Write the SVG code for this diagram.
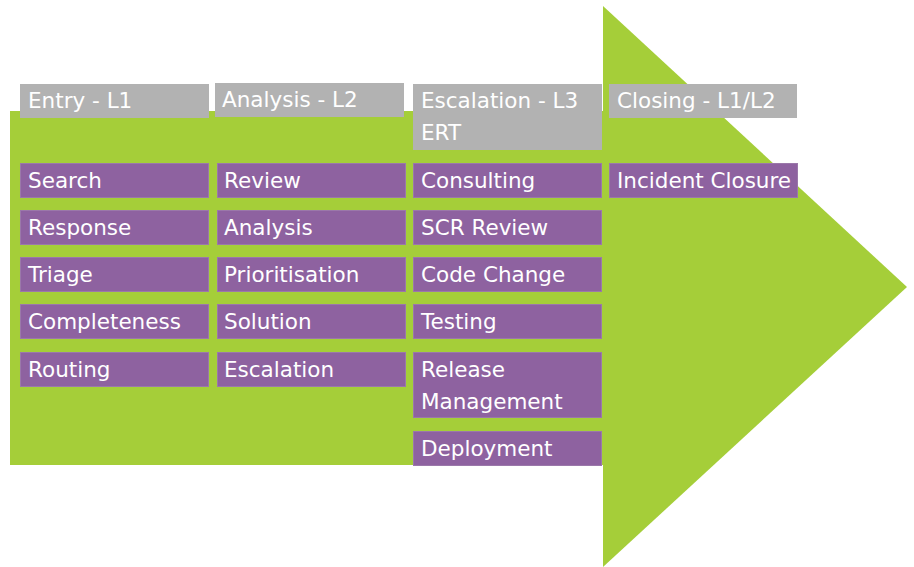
<svg xmlns="http://www.w3.org/2000/svg" width="914" height="567" viewBox="0 0 914 567">
  <style>
    .hdr { fill: #b2b2b2; }
    .step { fill: #8e62a0; stroke: #9b78aa; stroke-width: 1; }
    .lbl { fill: #ffffff; font-family: "DejaVu Sans", sans-serif; font-size: 21.5px; }
  </style>

  <!-- process arrow: body and head -->
  <g id="arrow">
    <rect x="10" y="111" width="594" height="354" fill="#a5ce39"/>
    <polygon points="603,6 907,287 603,567" fill="#a5ce39"/>
  </g>

  <!-- column headers -->
  <g id="hdr-entry">
    <rect class="hdr" x="20" y="84" width="189" height="34"/>
    <text class="lbl" x="28" y="108">Entry - L1</text>
  </g>
  <g id="hdr-analysis">
    <rect class="hdr" x="215" y="83" width="189" height="34"/>
    <text class="lbl" x="222" y="107">Analysis - L2</text>
  </g>
  <g id="hdr-escalation">
    <rect class="hdr" x="413" y="84" width="189" height="66"/>
    <text class="lbl" x="421" y="108">Escalation - L3</text>
    <text class="lbl" x="421" y="140">ERT</text>
  </g>
  <g id="hdr-closing">
    <rect class="hdr" x="609" y="84" width="188" height="34"/>
    <text class="lbl" x="617" y="108">Closing - L1/L2</text>
  </g>

  <!-- column 1 steps -->
  <g id="search"><rect class="step" x="20.5" y="163.5" width="188" height="34"/><text class="lbl" x="28" y="188">Search</text></g>
  <g id="response"><rect class="step" x="20.5" y="210.5" width="188" height="34"/><text class="lbl" x="28" y="235">Response</text></g>
  <g id="triage"><rect class="step" x="20.5" y="257.5" width="188" height="34"/><text class="lbl" x="28" y="282">Triage</text></g>
  <g id="completeness"><rect class="step" x="20.5" y="304.5" width="188" height="34"/><text class="lbl" x="28" y="329">Completeness</text></g>
  <g id="routing"><rect class="step" x="20.5" y="352.5" width="188" height="34"/><text class="lbl" x="28" y="377">Routing</text></g>

  <!-- column 2 steps -->
  <g id="review"><rect class="step" x="217.5" y="163.5" width="188" height="34"/><text class="lbl" x="224" y="188">Review</text></g>
  <g id="analysis"><rect class="step" x="217.5" y="210.5" width="188" height="34"/><text class="lbl" x="224" y="235">Analysis</text></g>
  <g id="prioritisation"><rect class="step" x="217.5" y="257.5" width="188" height="34"/><text class="lbl" x="224" y="282">Prioritisation</text></g>
  <g id="solution"><rect class="step" x="217.5" y="304.5" width="188" height="34"/><text class="lbl" x="224" y="329">Solution</text></g>
  <g id="escalation"><rect class="step" x="217.5" y="352.5" width="188" height="34"/><text class="lbl" x="224" y="377">Escalation</text></g>

  <!-- column 3 steps -->
  <g id="consulting"><rect class="step" x="413.5" y="163.5" width="188" height="34"/><text class="lbl" x="421" y="188">Consulting</text></g>
  <g id="scr-review"><rect class="step" x="413.5" y="210.5" width="188" height="34"/><text class="lbl" x="421" y="235">SCR Review</text></g>
  <g id="code-change"><rect class="step" x="413.5" y="257.5" width="188" height="34"/><text class="lbl" x="421" y="282">Code Change</text></g>
  <g id="testing"><rect class="step" x="413.5" y="304.5" width="188" height="34"/><text class="lbl" x="421" y="329">Testing</text></g>
  <g id="release-management"><rect class="step" x="413.5" y="352.5" width="188" height="65"/><text class="lbl" x="421" y="377">Release</text><text class="lbl" x="421" y="409">Management</text></g>
  <g id="deployment"><rect class="step" x="413.5" y="431.5" width="188" height="34"/><text class="lbl" x="421" y="456">Deployment</text></g>

  <!-- column 4 steps -->
  <g id="incident-closure"><rect class="step" x="609.5" y="163.5" width="188" height="34"/><text class="lbl" x="617" y="188">Incident Closure</text></g>

  <!-- no connectors in this diagram -->
  <g id="connectors"/>
</svg>
